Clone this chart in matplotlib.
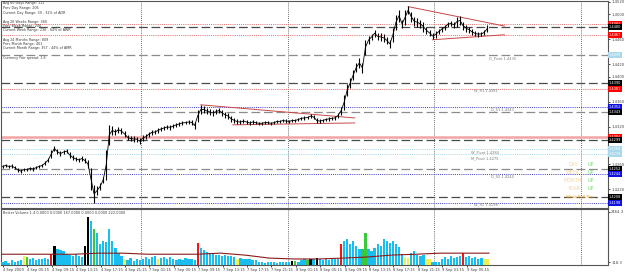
import matplotlib
matplotlib.use("Agg")
import matplotlib.pyplot as plt
from matplotlib.transforms import blended_transform_factory

plt.rcParams['font.family'] = ['DejaVu Sans']

# ---------------- data ----------------
BASE = 1.4000  # price = BASE + pips/10000 ; each entry = 30 minutes (two M15 bars)
high_pips = [259, 260, 259, 260, 257, 254, 252, 254, 254, 256,
             256, 257, 259, 260, 265, 270, 283, 289, 284, 281,
             283, 284, 280, 275, 272, 270, 273, 270, 267, 254,
             227, 225, 230, 240, 283, 323, 321, 316, 320, 318,
             313, 307, 305, 305, 304, 302, 307, 308, 312, 315,
             315, 318, 320, 321, 323, 323, 324, 326, 328, 329,
             329, 331, 331, 328, 347, 355, 353, 350, 348, 347,
             348, 350, 347, 344, 342, 337, 334, 332, 331, 332,
             331, 329, 331, 329, 328, 328, 329, 329, 328, 329,
             331, 331, 332, 332, 331, 332, 332, 334, 336, 337,
             337, 340, 339, 334, 332, 332, 334, 336, 336, 337,
             342, 352, 371, 388, 398, 411, 422, 430, 422, 459,
             465, 468, 475, 470, 470, 468, 464, 459, 478, 499,
             507, 491, 507, 513, 504, 496, 494, 491, 488, 480,
             475, 470, 473, 476, 480, 483, 488, 489, 488, 496,
             497, 488, 483, 480, 476, 473, 472, 472, 475, 483]
low_pips = [254, 256, 254, 254, 252, 248, 246, 249, 249, 251,
            249, 252, 254, 256, 259, 264, 270, 281, 276, 273,
            276, 278, 270, 267, 265, 264, 265, 262, 254, 219,
            198, 211, 219, 230, 235, 291, 307, 307, 310, 308,
            304, 299, 297, 296, 296, 292, 297, 300, 304, 307,
            308, 310, 313, 315, 316, 315, 318, 320, 321, 323,
            324, 324, 323, 316, 328, 340, 342, 340, 339, 337,
            340, 342, 337, 334, 332, 328, 326, 324, 324, 326,
            324, 323, 324, 324, 323, 323, 324, 324, 323, 324,
            326, 326, 328, 326, 326, 328, 328, 329, 331, 331,
            332, 334, 332, 326, 326, 328, 329, 329, 331, 331,
            334, 339, 347, 369, 382, 395, 408, 414, 406, 435,
            452, 459, 464, 459, 457, 456, 452, 446, 456, 475,
            488, 478, 483, 500, 488, 481, 480, 478, 472, 468,
            465, 460, 462, 468, 472, 475, 480, 481, 478, 480,
            483, 475, 472, 470, 467, 465, 464, 465, 467, 472]

volume = [140, 180, 110, 230, 160, 200, 250, 410, 380, 280,
          320, 250, 300, 270, 330, 290, 500, 870, 720, 680,
          650, 520, 470, 430, 500, 420, 350, 870, 2250, 2020,
          1650, 1470, 960, 1100, 1050, 1650, 1100, 780, 550, 420,
          280, 250, 320, 200, 280, 230, 300, 380, 270, 350,
          410, 260, 330, 390, 280, 360, 300, 250, 280, 230,
          310, 260, 290, 240, 1000, 780, 700, 620, 560, 500,
          450, 480, 420, 460, 400, 430, 380, 300, 340, 280,
          260, 300, 220, 250, 130, 150, 110, 140, 120, 160,
          100, 130, 150, 120, 140, 180, 200, 160, 230, 260,
          210, 300, 280, 320, 260, 250, 290, 230, 270, 300,
          260, 960, 1100, 1200, 960, 1100, 870, 740, 740, 1470,
          740, 650, 780, 960, 870, 1200, 1100, 1000, 1100, 960,
          830, 500, 370, 320, 550, 650, 460, 420, 460, 280,
          280, 150, 120, 140, 300, 350, 280, 400, 330, 380,
          420, 550, 380, 420, 330, 360, 300, 340, 280, 260]
# Better Volume bar type (index -> kind); all others are normal
volume_kind = {7: 'y', 8: 'g', 16: 'r', 17: 'k', 27: 'k', 28: 'k', 30: 'g', 40: 'y',
               51: 'y', 64: 'r', 77: 'y', 95: 'k', 96: 'g', 100: 'g', 101: 'k', 103: 'k',
               111: 'r', 118: 'g', 119: 'g', 132: 'y', 133: 'y', 139: 'y', 140: 'y',
               151: 'r', 158: 'y', 159: 'y'}
# volume average, one value every 4 hours
vol_avg = [500, 500, 500, 500, 550, 550, 500, 500, 500, 550, 460,
           320, 280, 280, 320, 370, 460, 500, 550, 550, 550]

# horizontal levels: price, style, label box colour
level_prices = [1.4484, 1.4480, 1.4467, 1.4435, 1.4390, 1.4381, 1.4352, 1.4343,
                1.4304, 1.4299, 1.4284, 1.4276, 1.4252, 1.4244, 1.4208, 1.4198]
level_styles = ['pink_dot', 'dark_dash', 'pink_dot', 'gray_dash', 'dark_dash', 'pink_dot',
                'blue_dot', 'gray_dash', 'pink_solid', 'dark_dash', 'cyan_dot', 'cyan_dot',
                'gray_dash', 'blue_dot', 'dark_dash', 'blue_dot']
level_boxes = ['#ff0000', '#000000', '#ff0000', '#a8d8ea', '#000000', '#ff0000',
               '#1010e0', '#000000', '#ff0000', '#000000', '#a8d8ea', '#a8d8ea',
               '#000000', '#1010e0', '#000000', '#1010e0']

pivot_names = ['D_Pivot', 'W_R1', 'D_S1', 'W_Pivot', 'M_Pivot', 'D_S2', 'W_S1']
pivot_values = [1.4435, 1.4381, 1.4343, 1.4284, 1.4275, 1.4244, 1.4198]

# trend lines: (bar_start, price_start, bar_end, price_end)
trend_x0 = [131, 152, 267, 283]
trend_p0 = [1.4355, 1.4323, 1.4512, 1.4459]
trend_x1 = [232, 232, 330, 330]
trend_p1 = [1.4334, 1.4326, 1.4481, 1.4467]

time_labels = ["4 Sep 2009", "4 Sep 05:15", "4 Sep 09:15", "4 Sep 13:15", "4 Sep 17:15",
               "4 Sep 21:15", "7 Sep 01:15", "7 Sep 05:15", "7 Sep 09:15", "7 Sep 13:15",
               "7 Sep 17:15", "7 Sep 21:15", "8 Sep 01:15", "8 Sep 05:15", "8 Sep 09:15",
               "8 Sep 13:15", "8 Sep 17:15", "8 Sep 21:15", "9 Sep 01:15", "9 Sep 05:15"]
day_starts = [92, 188, 284, 380]  # M15 bar index where a new day starts

info_lines = ["Avg 60 Days Range: 111", "Prev Day Range: 206", "Current Day Range: 39 - 32% of ADR",
              "Avg 26 Weeks Range: 360", "Prev Week Range: 206", "Current Week Range: 236 - 64% of AWR",
              "Avg 24 Months Range: 809", "Prev Month Range: 401", "Current Month Range: 357 - 44% of AMR",
              "Currency Pair spread: 1.6"]
trend_names = ["DAY", "WEEK", "MONTH", "YEAR"]
trend_states = ["UP", "UP", "UP", "UP"]

# ---------------- layout ----------------
W, H = 625, 275
fig = plt.figure(figsize=(W / 100, H / 100), dpi=100)
fig.patch.set_facecolor('white')


def rect(x0, y0, x1, y1):
    return [x0 / W, 1 - y1 / H, (x1 - x0) / W, (y1 - y0) / H]


ax = fig.add_axes(rect(1, 1, 608, 208))
axv = fig.add_axes(rect(1, 209, 608, 265), sharex=ax)

PX_PER_BAR = 1.525
XMAX = 607 / PX_PER_BAR
FS = 2.4
TXT = '#3a3a3a'

# ---------------- price panel ----------------
n = len(high_pips)
xs = [2 * k + 1 for k in range(n)]
hi = [BASE + v / 10000 for v in high_pips]
lo = [BASE + v / 10000 for v in low_pips]
mid = [(a + b) / 2 for a, b in zip(hi, lo)]
ax.vlines(xs, lo, hi, color='black', lw=0.8, zorder=5)
ax.plot(xs, mid, color='black', lw=0.6, zorder=5)

styles = {
    'pink_dot': dict(color='#e06a6a', ls=(0, (1, 1.2)), lw=0.7),
    'dark_dash': dict(color='#4a4a4a', ls=(0, (7, 3)), lw=0.9),
    'gray_dash': dict(color='#8c8c8c', ls=(0, (7, 3)), lw=0.9),
    'blue_dot': dict(color='#3a3ac8', ls=(0, (1, 1.2)), lw=0.7),
    'cyan_dot': dict(color='#9fd6e4', ls=(0, (1, 1.2)), lw=0.7),
    'pink_solid': dict(color='#f2a4a4', ls='-', lw=1.8),
}
trans_r = blended_transform_factory(ax.transAxes, ax.transData)
for p, st, bc in zip(level_prices, level_styles, level_boxes):
    ax.axhline(p, zorder=2, **styles[st])
    ax.text(1.0015, p, f"{p:.4f}", transform=trans_r, fontsize=2.5, color='white',
            va='center', ha='left', clip_on=False, zorder=10,
            bbox=dict(boxstyle='square,pad=0.3', fc=bc, ec='none'))

for x0, p0, x1, p1 in zip(trend_x0, trend_p0, trend_x1, trend_p1):
    ax.plot([x0, x1], [p0, p1], color='#c84848', lw=0.7, zorder=4)

for d in day_starts:
    ax.axvline(d, color='#404040', ls=(0, (1, 1.5)), lw=0.6, zorder=1)
    axv.axvline(d, color='#404040', ls=(0, (1, 1.5)), lw=0.6, zorder=1)

# pivot labels
piv_x = [320, 310, 321, 308, 308, 321, 310]
piv_dy = [-0.0006, -0.0003, 0.0004, -0.0005, -0.0005, -0.0003, -0.0003]
for name, val, px, dy in zip(pivot_names, pivot_values, piv_x, piv_dy):
    ax.text(px, val + dy, f"{name} {val:.4f}", fontsize=2.6, color='#7a7a7a',
            va='center', ha='left', zorder=6)

ax.set_xlim(0, XMAX)
ax.set_ylim(1.4190, 1.4521)
ax.yaxis.tick_right()
yt_all = [1.4200 + 0.0020 * i for i in range(17)]
yt = [v for v in yt_all if min(abs(v - p) for p in level_prices) > 0.00055]
ax.set_yticks(yt)
ax.set_yticklabels([f"{v:.4f}" for v in yt], fontsize=2.7, color='#444444')
ax.tick_params(axis='y', length=1.5, width=0.5, pad=0.8)
ax.tick_params(axis='x', bottom=False, labelbottom=False)
for s in ax.spines.values():
    s.set_color('#555555')
    s.set_linewidth(0.8)


def afr(px, py):
    return ((px - 1) / 607, (208 - py) / 207)


info_y = [3, 8, 13, 22, 26, 30, 40, 44, 48, 58]
for t, py in zip(info_lines, info_y):
    ax.text(*afr(3, py), t, transform=ax.transAxes, fontsize=FS, color=TXT,
            va='center', ha='left', zorder=7)

for i, (nm, stt) in enumerate(zip(trend_names, trend_states)):
    py = 165 + 8 * i
    ax.text(*afr(573, py), nm, transform=ax.transAxes, fontsize=3.5, color='#f3d3a6',
            va='center', ha='center', zorder=7)
    ax.text(*afr(591, py - 1), stt, transform=ax.transAxes, fontsize=3.5, color='#7cdc7c',
            va='center', ha='center', zorder=7)
ax.text(*afr(580, 197), "Weak Bull Bias", transform=ax.transAxes, fontsize=2.8,
        color='#f0a020', va='center', ha='center', zorder=7)

# ---------------- volume panel ----------------
kind_colors = {'n': '#19bdf0', 'y': '#f0f050', 'g': '#3cc83c', 'r': '#ff1010', 'k': '#000000'}
vcols = [kind_colors[volume_kind.get(i, 'n')] for i in range(len(volume))]
axv.bar(xs, volume, width=1.5, color=vcols, linewidth=0, zorder=3)
ma_x = [16 * j for j in range(len(vol_avg))]
axv.plot(ma_x, vol_avg, color='#8b1a1a', lw=0.8, zorder=4)
axv.set_ylim(0, 2600)
axv.yaxis.tick_right()
axv.set_yticks([118.3, 2464.3])
axv.set_yticklabels(["118.3", "2464.3"], fontsize=2.7, color='#444444')
axv.tick_params(axis='y', length=1.5, width=0.5, pad=0.8)
axv.text(0.004, 0.92, "Better Volume 1.4 0.0000 0.0000 167.0000 0.0000 0.0000 222.0000",
         transform=axv.transAxes, fontsize=2.5, color=TXT, va='center', ha='left')
ticks = [1.3 + 16 * i for i in range(len(time_labels))]
axv.set_xticks(ticks)
axv.set_xticklabels(time_labels, fontsize=2.6, color=TXT)
for lab in axv.get_xticklabels():
    lab.set_ha('left')
axv.tick_params(axis='x', length=1.5, width=0.5, pad=1)
for s in axv.spines.values():
    s.set_color('#555555')
    s.set_linewidth(0.8)

fig.savefig("out.png", dpi=100, facecolor='white')
